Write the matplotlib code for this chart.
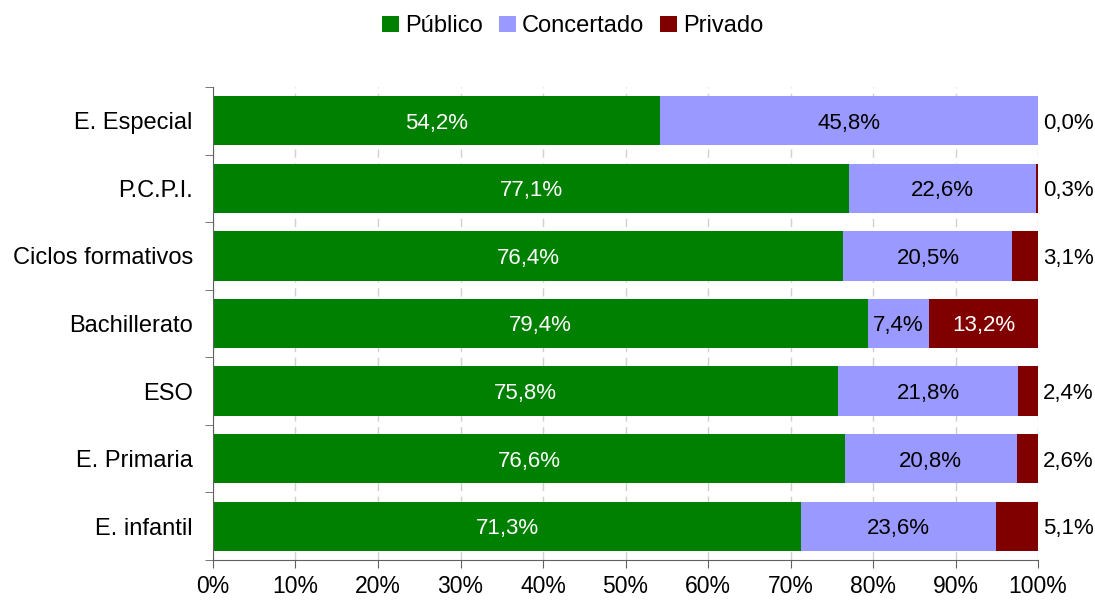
import numpy as np
import matplotlib.pyplot as plt
from matplotlib.patches import Patch

plt.rcParams['font.family'] = ['Liberation Sans', 'DejaVu Sans']

categories = ["E. infantil", "E. Primaria", "ESO", "Bachillerato",
              "Ciclos formativos", "P.C.P.I.", "E. Especial"]
publico = [71.3, 76.6, 75.8, 79.4, 76.4, 77.1, 54.2]
concertado = [23.6, 20.8, 21.8, 7.4, 20.5, 22.6, 45.8]
privado = [5.1, 2.6, 2.4, 13.2, 3.1, 0.3, 0.0]

series_names = ["Público", "Concertado", "Privado"]
colors = ["#008000", "#9999FF", "#800000"]


def fmt(v):
    return f"{v:.1f}%".replace(".", ",")


fig = plt.figure(figsize=(10.95, 6), dpi=100)
ax = fig.add_axes([0.1945, 0.0667, 0.7535, 0.7883])

y = np.arange(len(categories))
h = 0.73
pub = np.array(publico)
con = np.array(concertado)
pri = np.array(privado)

ax.barh(y, pub, height=h, color=colors[0], zorder=2)
ax.barh(y, con, left=pub, height=h, color=colors[1], zorder=2)
ax.barh(y, pri, left=pub + con, height=h, color=colors[2], zorder=2)

fs = 17
lfs = 16
for i in range(len(categories)):
    ax.text(pub[i] / 2, y[i], fmt(pub[i]), ha="center", va="center_baseline",
            color="white", fontsize=lfs, zorder=3)
    ax.text(pub[i] + con[i] / 2, y[i], fmt(con[i]), ha="center",
            va="center_baseline", color="black", fontsize=lfs, zorder=3)
    if pri[i] > 10:
        ax.text(pub[i] + con[i] + pri[i] / 2, y[i], fmt(pri[i]), ha="center",
                va="center_baseline", color="white", fontsize=lfs, zorder=3)
    else:
        ax.text(100.6, y[i], fmt(pri[i]), ha="left", va="center_baseline",
                color="black", fontsize=lfs, zorder=3, clip_on=False)

ax.set_xlim(0, 100)
ax.set_ylim(-0.5, len(categories) - 0.5)
ax.set_xticks(np.arange(0, 101, 10))
ax.set_xticklabels([f"{t}%" for t in range(0, 101, 10)], fontsize=16.5)
ax.set_yticks(y)
ax.set_yticklabels(categories, fontsize=fs)
ax.tick_params(axis="y", length=0, pad=14.5)
ax.set_yticks(np.arange(-0.5, len(categories), 1), minor=True)
ax.tick_params(axis="y", which="minor", length=6, color="#606060")
ax.tick_params(axis="x", length=6, color="#606060", pad=5)

ax.grid(axis="x", color="#d0d0d0", linestyle=(0, (6, 4)), linewidth=1, zorder=0)
for s in ["top", "right"]:
    ax.spines[s].set_visible(False)
for s in ["left", "bottom"]:
    ax.spines[s].set_color("#606060")

handles = [Patch(facecolor=c, label=n) for c, n in zip(colors, series_names)]
fig.legend(handles=handles, loc="upper center", bbox_to_anchor=(0.523, 1.01),
           ncol=3, frameon=False, fontsize=fs, handlelength=0.7,
           handleheight=0.7, handletextpad=0.25, columnspacing=0.7)

fig.savefig("out.png", dpi=100)
